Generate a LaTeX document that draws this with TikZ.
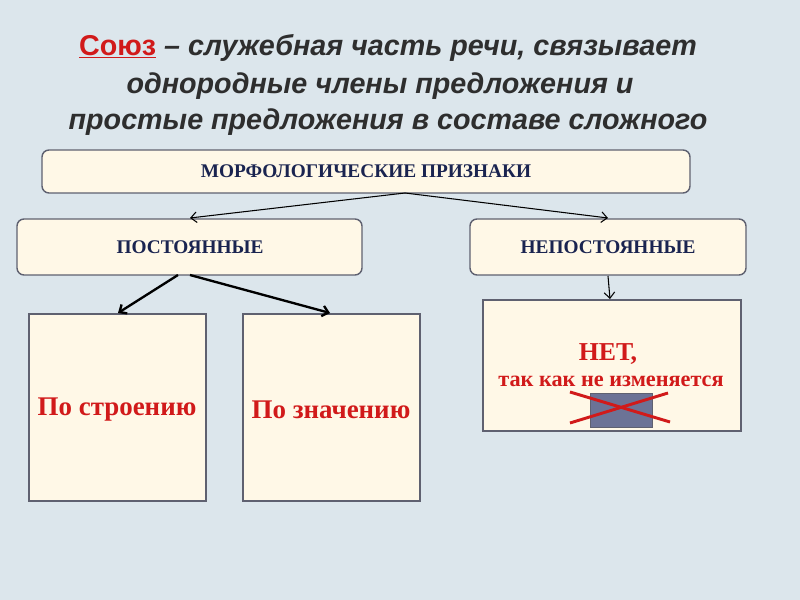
\documentclass[tikz,border=0pt]{standalone}
\usepackage{fontspec}
\setmainfont{Liberation Serif}
\newfontfamily\hsans{Liberation Sans}
\usetikzlibrary{arrows.meta}
\definecolor{bg}{HTML}{DCE6EC}
\definecolor{boxfill}{HTML}{FFF8E7}
\definecolor{boxline}{HTML}{5F6170}
\definecolor{navy}{HTML}{1A2450}
\definecolor{tred}{HTML}{D11A1A}
\definecolor{ttl}{HTML}{2E2E2E}
\definecolor{slate}{HTML}{6C7396}
\tikzset{
  rbox/.style={draw=boxline,line width=1.2pt,fill=boxfill,rounded corners=6pt},
  sbox/.style={draw=boxline,line width=1.2pt,fill=boxfill},
  hdr/.style={font=\bfseries\fontsize{16.5}{19}\selectfont,text=navy},
  big/.style={font=\bfseries\fontsize{23}{26}\selectfont,text=tred},
  thin/.style={-{Straight Barb[length=5pt,width=9pt]},line width=0.9pt},
  thick/.style={-{Straight Barb[length=5pt,width=9pt]},line width=2pt},
  ttlline/.style={font=\hsans\bfseries\itshape\fontsize{24.5}{28}\selectfont,text=ttl}
}
\begin{document}
\begin{tikzpicture}[x=0.03cm,y=-0.03cm]
\fill[bg] (0,0) rectangle (800,600);
\node[ttlline] (t1) at (388,48) {{\normalfont\hsans\bfseries\color{tred}\underline{Союз}} – служебная часть речи, связывает};
\node[ttlline] (t2) at (380,86) {однородные члены предложения и};
\node[ttlline] (t3) at (388,122) {простые предложения в составе сложного};

\draw[rbox] (42,150) rectangle (690,193);
\node[hdr] (m) at (366,171) {МОРФОЛОГИЧЕСКИЕ ПРИЗНАКИ};
\draw[rbox] (17,219) rectangle (362,275);
\node[hdr] (p) at (190,247) {ПОСТОЯННЫЕ};
\draw[rbox] (470,219) rectangle (746,275);
\node[hdr] (n) at (608,247) {НЕПОСТОЯННЫЕ};

\draw[sbox] (29,314) rectangle (206,501);
\node[big] (b1) at (117,410) {По строению};
\draw[sbox] (243,314) rectangle (420,501);
\node[big] (b2) at (331,410) {По значению};
\draw[sbox] (483,300) rectangle (741,431);
\node[big,font=\bfseries\fontsize{22}{25}\selectfont] (b3) at (608,354) {НЕТ,};
\node[big,font=\bfseries\fontsize{19}{22}\selectfont] (b4) at (611,381) {так как не изменяется};
\draw[fill=slate,draw=boxline] (590,393) rectangle (652,427);
\draw[tred,line width=2.5pt] (570,392) -- (670,422);
\draw[tred,line width=2.5pt] (570,423) -- (668,393);

\coordinate (ms) at (405,193);
\coordinate (pt) at (190,218);
\coordinate (nt) at (608,218);
\coordinate (pb1) at (178,275);
\coordinate (pb2) at (190,275);
\coordinate (b1t) at (118,313);
\coordinate (b2t) at (330,313);
\coordinate (nb) at (608,276);
\coordinate (b3t) at (610,299);
\draw[thin] (ms) -- (pt);
\draw[thin] (ms) -- (nt);
\draw[thick] (pb1) -- (b1t);
\draw[thick] (pb2) -- (b2t);
\draw[thin] (nb) -- (b3t);
\end{tikzpicture}
\end{document}
